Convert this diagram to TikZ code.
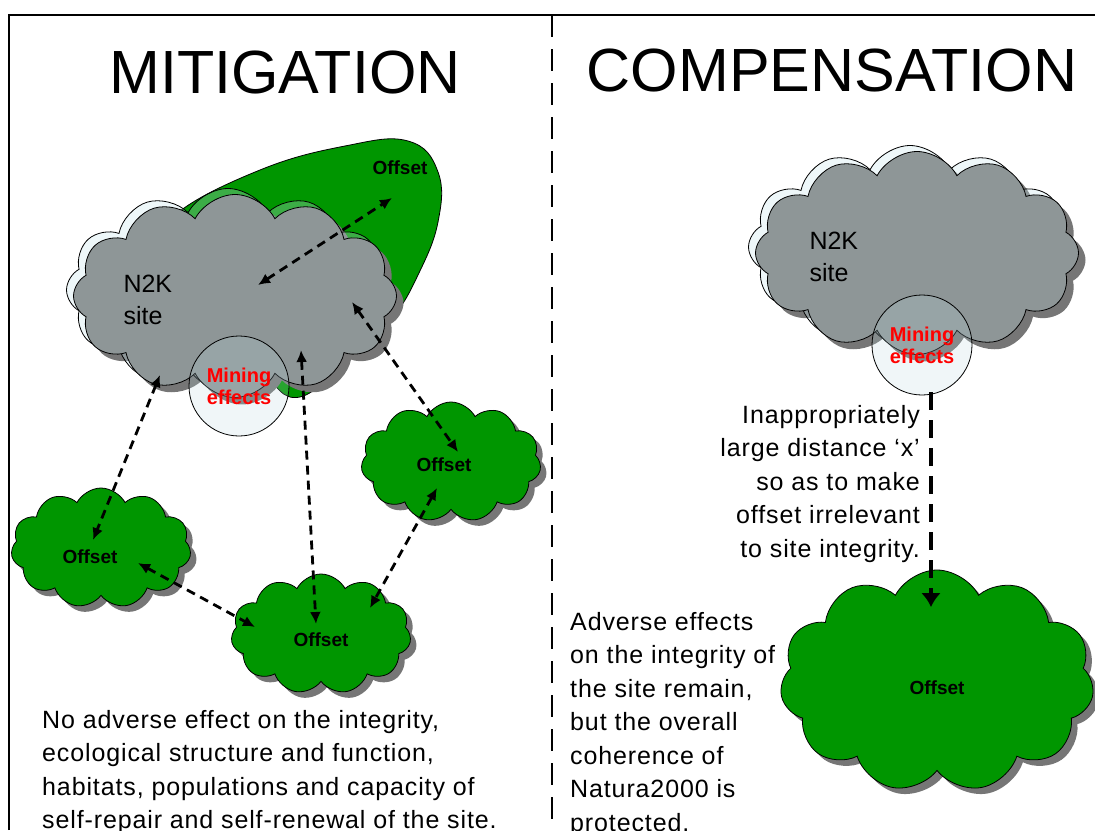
\documentclass[tikz,border=0pt]{standalone}
\usepackage{fontspec}
\setmainfont{Liberation Sans}
\newfontfamily\bodyfont[LetterSpace=3.5]{Liberation Sans}
\usetikzlibrary{shapes.symbols,shadows,arrows.meta}
\definecolor{sitegray}{RGB}{142,150,151}
\definecolor{offsetgreen}{RGB}{0,150,0}
\definecolor{palecloud}{RGB}{200,228,235}
\definecolor{shadowgray}{RGB}{118,118,118}
\definecolor{lensblue}{RGB}{185,215,222}

\tikzset{
  cloudbase/.style={cloud, cloud puffs=11, cloud puff arc=125, draw=black, line width=0.8pt, inner sep=0pt},
  sitecloud/.style={cloudbase, cloud puffs=12, fill=sitegray, minimum width=323pt, minimum height=203pt,
    drop shadow={shadow xshift=7pt, shadow yshift=-7pt, fill=shadowgray, opacity=1},
    general shadow={shadow xshift=-7pt, shadow yshift=6pt, fill=palecloud, fill opacity=0.3, draw=black}},
  offsetcloud/.style={cloudbase, fill=offsetgreen, minimum width=180pt, minimum height=120pt,
    drop shadow={shadow xshift=6pt, shadow yshift=-6pt, fill=shadowgray, opacity=1}},
  lens/.style={circle, draw=black, line width=0.8pt, fill=lensblue, fill opacity=0.22, text opacity=1,
    minimum size=100pt, inner sep=0pt, text=red, align=center, font=\bfseries\fontsize{20}{22}\selectfont},
  offsetlabel/.style={font=\bfseries\fontsize{19}{19}\selectfont},
  sitelabel/.style={anchor=west, align=left, font=\fontsize{25}{32}\selectfont},
  title/.style={anchor=base, font=\fontsize{61}{61}\selectfont},
  para/.style={inner sep=0pt, font=\bodyfont\fontsize{25}{33.5}\selectfont},
  link/.style={<->, line width=2.8pt, dash pattern=on 9pt off 6pt},
  longlink/.style={->, line width=4.5pt, dash pattern=on 18pt off 10pt}
}

\begin{document}
\begin{tikzpicture}[x=1pt,y=-1pt,>={Latex[length=12pt,width=11pt]}]
\useasboundingbox (0,0) rectangle (1095,830);
\clip (0,0) rectangle (1095,830);

% frame and divider
\draw[line width=2.5pt] (9,830) -- (9,15) -- (1095,15);
\draw[line width=2.5pt, dash pattern=on 22pt off 12pt] (552,15) -- (552,830);

\node[title] (mitig) at (285,93) {MITIGATION};
\node[title] (compens) at (832,91) {COMPENSATION};

% mitigation side
\fill[offsetgreen, draw=black, line width=0.8pt] plot[smooth cycle, tension=0.7] coordinates
  {(175,215) (260,170) (345,146) (408,141) (438,172) (438,222) (418,275) (392,318) (355,350) (300,397) (260,370) (210,320) (160,255)};
\node[offsetlabel] (offTop) at (400,168) {Offset};

\node[sitecloud] (siteL) at (235,296) {};
\node[sitelabel] (siteLtext) at (120,300) {N2K\\site};
\node[lens] (mineL) at (239,386) {Mining\\effects};

\node[offsetcloud] (offA) at (101,548) {};
\node[offsetlabel] (offAtext) at (90,557) {Offset};
\node[offsetcloud] (offB) at (321,634) {};
\node[offsetlabel] (offBtext) at (321,640) {Offset};
\node[offsetcloud] (offC) at (451,462) {};
\node[offsetlabel] (offCtext) at (444,465) {Offset};

\coordinate (s1) at (258,285);
\coordinate (s2) at (160,375);
\coordinate (s3) at (301,350);
\coordinate (s4) at (352,302);
\coordinate (t1) at (392,198);
\coordinate (a1) at (93,540);
\coordinate (a2) at (138,563);
\coordinate (b1) at (255,627);
\coordinate (b2) at (316,624);
\coordinate (b3) at (370,608);
\coordinate (c1) at (458,452);
\coordinate (c2) at (437,488);
\draw[link] (s1) -- (t1);
\draw[link] (s2) -- (a1);
\draw[link] (s3) -- (b2);
\draw[link] (s4) -- (c1);
\draw[link] (a2) -- (b1);
\draw[link] (c2) -- (b3);

\node[para, anchor=north west, align=left] (noEffect) at (42,710)
  {No adverse effect on the integrity,\\ecological structure and function,\\habitats, populations and capacity of\\self-repair and self-renewal of the site.};

% compensation side
\node[sitecloud] (siteR) at (917,253) {};
\node[sitelabel] (siteRtext) at (806,257) {N2K\\site};
\node[lens] (mineR) at (922,345) {Mining\\effects};

\node[offsetcloud, minimum width=314pt, minimum height=222pt] (offD) at (937,681) {};
\node[offsetlabel] (offDtext) at (937,688) {Offset};

\coordinate (r1) at (931,392);
\coordinate (r2) at (931,607);
\draw[longlink, >={Latex[length=14pt,width=20pt]}] (r1) -- (r2);

\node[para, anchor=north east, align=right] (distance) at (920,405)
  {Inappropriately\\large distance ‘x’\\so as to make\\offset irrelevant\\to site integrity.};
\node[para, anchor=north west, align=left] (adverse) at (570,612)
  {Adverse effects\\on the integrity of\\the site remain,\\but the overall\\coherence of\\Natura2000 is\\protected.};
\end{tikzpicture}
\end{document}
